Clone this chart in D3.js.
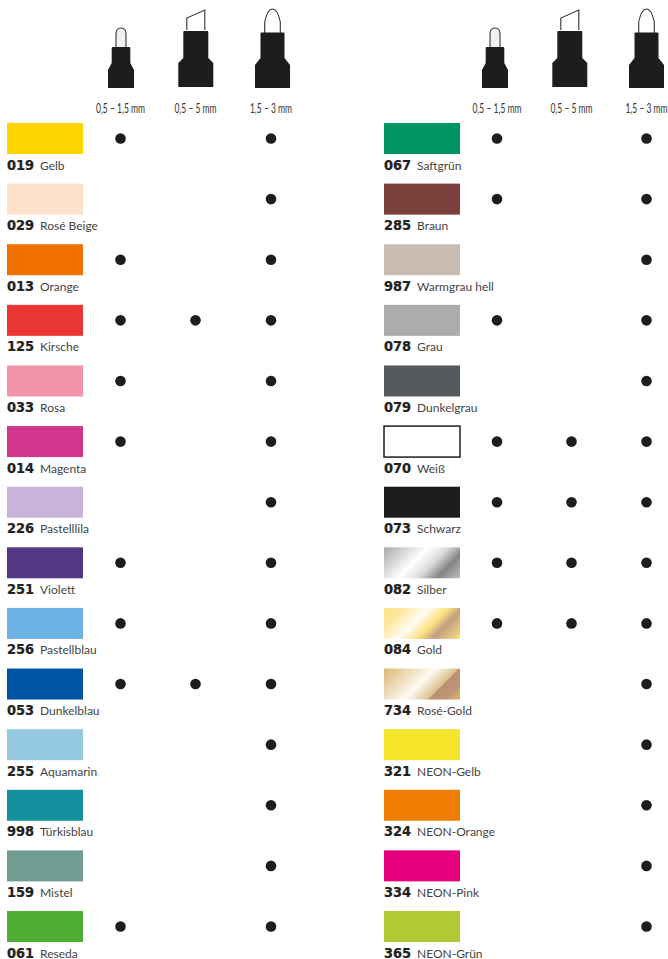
<!DOCTYPE html>
<html lang="de">
<head>
  <meta charset="UTF-8">
  <script src="https://d3js.org/d3.v7.min.js"></script>
  <title>Farbtabelle</title>
  <style>
    html, body { margin: 0; background: #fff; }
    svg { display: block; }
    text { font-family: Lato, sans-serif; }
  </style>
</head>
<body>
<div id="chart"></div>
<script>
// nib widths, same three columns in both panels
const nibLabels = ["0,5 – 1,5 mm", "0,5 – 5 mm", "1,5 – 3 mm"];

// left panel
const leftCodes = ["019", "029", "013", "125", "033", "014", "226", "251", "256", "053", "255", "998", "159", "061"];
const leftNames = ["Gelb", "Rosé Beige", "Orange", "Kirsche", "Rosa", "Magenta", "Pastelllila", "Violett", "Pastellblau", "Dunkelblau", "Aquamarin", "Türkisblau", "Mistel", "Reseda"];
const leftColors = ["#ffd500", "#fce0c8", "#f07000", "#ea3535", "#f294aa", "#d2358e", "#c9b3da", "#533785", "#6cb1e3", "#0054a4", "#96cae3", "#13919f", "#719c92", "#4fad33"];
const leftNib1 = [1, 0, 1, 1, 1, 1, 0, 1, 1, 1, 0, 0, 0, 1];
const leftNib2 = [0, 0, 0, 1, 0, 0, 0, 0, 0, 1, 0, 0, 0, 0];
const leftNib3 = [1, 1, 1, 1, 1, 1, 1, 1, 1, 1, 1, 1, 1, 1];

// right panel
const rightCodes = ["067", "285", "987", "078", "079", "070", "073", "082", "084", "734", "321", "324", "334", "365"];
const rightNames = ["Saftgrün", "Braun", "Warmgrau hell", "Grau", "Dunkelgrau", "Weiß", "Schwarz", "Silber", "Gold", "Rosé-Gold", "NEON-Gelb", "NEON-Orange", "NEON-Pink", "NEON-Grün"];
const rightColors = ["#009460", "#7b3f3c", "#c8bbb0", "#abacae", "#575a5d", "#ffffff", "#1d1d1b", "url(#silber)", "url(#gold)", "url(#rosegold)", "#f5e62c", "#f07d00", "#e6007e", "#afca35"];
const rightNib1 = [1, 1, 0, 1, 0, 1, 1, 1, 1, 0, 0, 0, 0, 0];
const rightNib2 = [0, 0, 0, 0, 0, 1, 1, 1, 1, 0, 0, 0, 0, 0];
const rightNib3 = [1, 1, 1, 1, 1, 1, 1, 1, 1, 1, 1, 1, 1, 1];

// metallic swatches
const silberStops = [[0, "#a9a9a9"], [0.42, "#ffffff"], [0.6, "#dcdcdc"], [0.78, "#858585"], [1, "#bdbdbd"]];
const goldStops = [[0, "#fde08a"], [0.2, "#fde8a0"], [0.42, "#fffdf5"], [0.6, "#fde080"], [0.74, "#c49e80"], [1, "#fde080"]];
const rosegoldStops = [[0, "#dcb873"], [0.48, "#fffbf4"], [0.69, "#dcc290"], [0.71, "#bb9074"], [0.85, "#bf9575"], [1, "#dab66c"]];

const width = 668, height = 959;
const swatchW = 76, swatchH = 31;
const ink = "#1d1d1b";

const svg = d3.select("#chart").append("svg")
  .attr("width", width)
  .attr("height", height);

const defs = svg.append("defs");
[["silber", silberStops], ["gold", goldStops], ["rosegold", rosegoldStops]].forEach(function (g) {
  defs.append("linearGradient")
    .attr("id", g[0])
    .attr("gradientUnits", "userSpaceOnUse")
    .attr("x1", 0).attr("y1", 0).attr("x2", 53.5).attr("y2", 53.5)
    .selectAll("stop")
    .data(g[1])
    .join("stop")
    .attr("offset", d => d[0])
    .attr("stop-color", d => d[1]);
});

// row position, shared by both panels
const y = d3.scaleLinear().domain([0, 13]).range([123, 911]);

// nib outlines, drawn around the column centre with the base at 0
const nibBody = [
  "M-13,0V-18L-9.3,-25V-40Q-9.3,-41 -8.3,-41H8.3Q9.3,-41 9.3,-40V-25L13,-18V0Z",
  "M-17.5,-1V-25L-12.5,-30V-56Q-12.5,-57 -11.5,-57H11.5Q12.5,-57 12.5,-56V-30L17.5,-25V-1Z",
  "M-17.5,0V-23L-12,-30V-54.5Q-12,-55.5 -11,-55.5H11Q12,-55.5 12,-54.5V-30L17.5,-23V0Z"
];
const nibTip = [
  "M-5,-41V-54Q-5,-60 0,-60Q5,-60 5,-54V-41",
  "M-9,-58V-70L9,-78V-58",
  "M-7.8,-55V-66Q-5,-79 0,-79Q5,-79 7.8,-66V-55"
];
const nibTipFill = ["#f0f0f0", "#fff", "#fff"];

function drawPanel(p) {
  const g = svg.append("g");
  const x = d3.scaleOrdinal().domain([0, 1, 2]).range(p.columns);
  const nibX = d3.scaleOrdinal().domain([0, 1, 2]).range(p.nibColumns);

  // header icons
  const nib = g.selectAll(".nib")
    .data(nibLabels)
    .join("g")
    .attr("class", "nib")
    .attr("transform", (d, i) => `translate(${nibX(i)},88)`);
  nib.append("path")
    .attr("d", (d, i) => nibTip[i])
    .attr("fill", (d, i) => nibTipFill[i])
    .attr("stroke", "#333")
    .attr("stroke-width", 1.1);
  nib.append("path")
    .attr("d", (d, i) => nibBody[i])
    .attr("fill", ink);

  // header labels, the original face is condensed
  g.selectAll(".nibLabel")
    .data(nibLabels)
    .join("text")
    .attr("class", "nibLabel")
    .attr("transform", (d, i) => `translate(${x(i)},113) scale(0.63,1)`)
    .attr("text-anchor", "middle")
    .attr("font-size", 13.5)
    .attr("fill", "#333")
    .text(d => d);

  // one group per colour
  const row = g.selectAll(".row")
    .data(p.codes)
    .join("g")
    .attr("class", "row")
    .attr("transform", (d, i) => `translate(${p.swatchX},${y(i)})`);

  row.append("rect")
    .attr("width", swatchW)
    .attr("height", swatchH)
    .attr("fill", (d, i) => p.colors[i])
    .attr("stroke", (d, i) => p.codes[i] === "070" ? ink : "none")
    .attr("stroke-width", 1.5);

  // the code number is a heavy, wide face
  row.append("text")
    .attr("transform", "translate(0,46.5) scale(0.93,1)")
    .style("font-family", "'DejaVu Sans', sans-serif")
    .attr("font-size", 14)
    .attr("font-weight", 700)
    .attr("fill", "#222")
    .attr("stroke", "#222")
    .attr("stroke-width", 0.25)
    .text(d => d);

  row.append("text")
    .attr("x", 33)
    .attr("y", 46.5)
    .attr("font-size", 12)
    .attr("fill", "#444")
    .text((d, i) => p.names[i]);

  // availability dots
  p.nibs.forEach(function (flags, c) {
    g.selectAll(".dot" + c)
      .data(flags)
      .join("circle")
      .attr("class", "dot" + c)
      .attr("cx", x(c))
      .attr("cy", (d, i) => y(i) + 15.5)
      .attr("r", 5.3)
      .attr("fill", ink)
      .attr("display", d => d ? null : "none");
  });
}

drawPanel({
  codes: leftCodes, names: leftNames, colors: leftColors,
  nibs: [leftNib1, leftNib2, leftNib3],
  swatchX: 7, columns: [120.5, 195.5, 271], nibColumns: [121, 195.8, 272.5]
});
drawPanel({
  codes: rightCodes, names: rightNames, colors: rightColors,
  nibs: [rightNib1, rightNib2, rightNib3],
  swatchX: 384, columns: [497, 571.5, 646.5], nibColumns: [495, 569.8, 646.5]
});
</script>
</body>
</html>
